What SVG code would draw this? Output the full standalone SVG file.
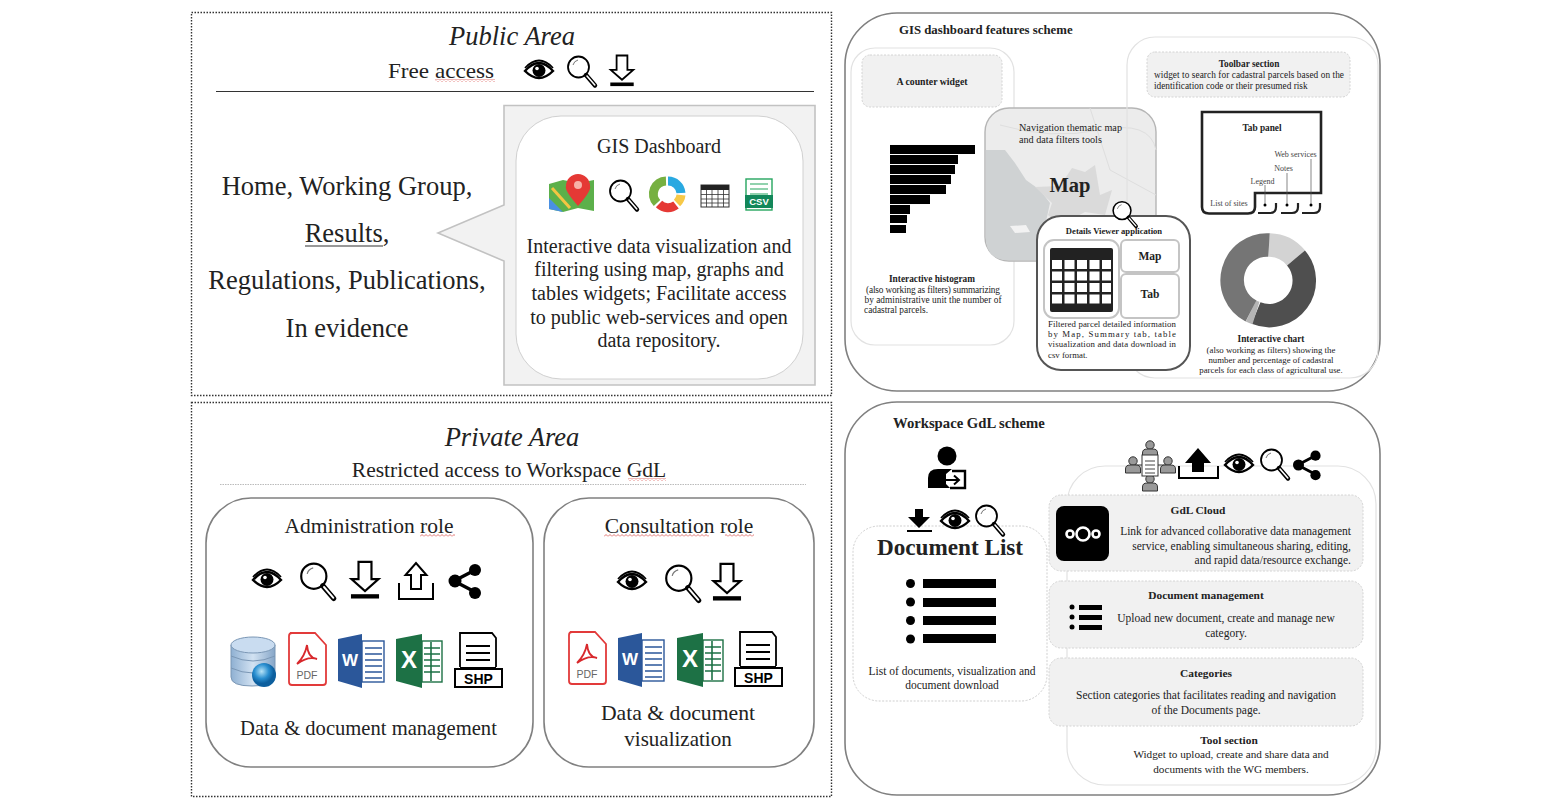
<svg xmlns="http://www.w3.org/2000/svg" width="1560" height="804" viewBox="0 0 1560 804">
<style>
text{font-family:"Liberation Serif","Times New Roman",serif;fill:#222}
.c{text-anchor:middle}
.b{font-weight:bold}
.i{font-style:italic}
.dot{fill:none;stroke:#333;stroke-width:1.4;stroke-dasharray:1.5 1.5}
.panel{fill:#fff;stroke:#808080;stroke-width:1.6}
.faint{fill:none;stroke:#e2e2e2;stroke-width:1.2}
.gbox{fill:#f1f1f1;stroke:#d4d4d4;stroke-width:1;stroke-dasharray:2 1.5}
.t12{font-size:11.5px}.tb{font-size:11.4px;font-weight:bold}.t9{font-size:9.3px}.t10{font-size:10.2px}
.t8{font-size:8px;fill:#444}
.squig{fill:url(#sq)}
.bar{fill:#000}
</style>
<defs>
<pattern id="sq" width="4" height="3" patternUnits="userSpaceOnUse"><path d="M0,2.5 L2,0.5 L4,2.5" fill="none" stroke="#d9534f" stroke-width="0.8"/></pattern>
<linearGradient id="dbg" x1="0" x2="1" y1="0" y2="0"><stop offset="0" stop-color="#8fb0d2"/><stop offset=".5" stop-color="#d2e2f2"/><stop offset="1" stop-color="#86a6c8"/></linearGradient>
<radialGradient id="globe" cx=".4" cy=".35"><stop offset="0" stop-color="#b7e3f7"/><stop offset=".6" stop-color="#2a8fd0"/><stop offset="1" stop-color="#0d5f9e"/></radialGradient>
<g id="eye"><path d="M-14,1 Q0,-15 14,1 Q0,15 -14,1Z" fill="#fff" stroke="#000" stroke-width="2.4"/><path d="M-14,-2 Q0,-17 14,-2" fill="none" stroke="#000" stroke-width="1.8"/><circle r="6.5" cy="0.5" fill="#000"/><circle cx="-2" cy="-1.5" r="1.8" fill="#fff"/></g>
<g id="mag"><circle cx="-3.5" cy="-4" r="10.5" fill="#fff" stroke="#000" stroke-width="1.8"/><path d="M4,4 L13,14.5" stroke="#000" stroke-width="4.4" stroke-linecap="round"/><path d="M5,5 L12.8,14" stroke="#fff" stroke-width="1.6" stroke-linecap="round"/><path d="M-9,-6 Q-8,-10 -4,-11" fill="none" stroke="#777" stroke-width="1"/></g>
<g id="down"><path d="M-6,-15 H6 V1 H12.5 L0,12 L-12.5,1 H-6Z" fill="#fff" stroke="#000" stroke-width="2"/><rect x="-13" y="15" width="26" height="4" fill="#000"/></g>
<g id="up"><path d="M-5,8 V-6 H-10.5 L0,-18 L10.5,-6 H5 V8Z" fill="#fff" stroke="#000" stroke-width="2"/><path d="M-17,2 V18 H17 V2" fill="none" stroke="#000" stroke-width="2"/></g>
<g id="share"><path d="M12,-12 L-11,0 L12,12" fill="none" stroke="#000" stroke-width="3.4"/><circle cx="10" cy="-11" r="6" fill="#000"/><circle cx="-10" cy="0" r="6.5" fill="#000"/><circle cx="10" cy="12" r="6" fill="#000"/></g>
<g id="pdf"><path d="M2,1 H27 L38,13 V50 Q38,53 35,53 H4 Q1,53 1,50 V4 Q1,1 4,1Z" fill="#fff" stroke="#e23a3a" stroke-width="1.8"/><path d="M19,13 Q17,24 9,32 Q20,24 29,27 Q20,26 19,13Z" fill="none" stroke="#d8282c" stroke-width="1.8"/><text x="19" y="47" class="c" style="font-family:'Liberation Sans',sans-serif;font-size:10.5px;fill:#666">PDF</text></g>
<g id="word"><path d="M0,5 L24,0 V54 L0,47Z" fill="#2b579a"/><rect x="24" y="7" width="22" height="41" fill="#fff" stroke="#2b579a" stroke-width="1.4"/><path d="M27,14H44M27,20H44M27,26H44M27,32H44M27,38H44M27,44H44" stroke="#2b579a" stroke-width="1.6"/><text x="12" y="32" class="c" style="font-family:'Liberation Sans',sans-serif;font-size:17px;font-weight:bold;fill:#fff">W</text></g>
<g id="excel"><path d="M0,5 L26,0 V54 L0,47Z" fill="#1d7145"/><rect x="26" y="7" width="20" height="41" fill="#fff" stroke="#1d7145" stroke-width="1.4"/><path d="M28,14H44M28,20H44M28,26H44M28,32H44M28,38H44M35,8V47" stroke="#1d7145" stroke-width="1.6"/><text x="13" y="34" class="c" style="font-family:'Liberation Sans',sans-serif;font-size:24px;font-weight:bold;fill:#fff">X</text></g>
<g id="shp"><path d="M6,35 V1 H38 L42,6 V35" fill="#fff" stroke="#000" stroke-width="1.8"/><path d="M12,14H36M12,21H36M12,28H36" stroke="#000" stroke-width="2"/><rect x="1" y="37" width="47" height="18" fill="#fff" stroke="#000" stroke-width="2"/><path d="M6,36H42" stroke="#000" stroke-width="2"/><text x="24.5" y="52" class="c" style="font-family:'Liberation Sans',sans-serif;font-size:14px;font-weight:bold;fill:#000">SHP</text></g>
<g id="person"><circle cy="-5" r="4.2" fill="#999" stroke="#333"/><path d="M-7.5,7 V3 Q-7.5,-1 -3,-1 H3 Q7.5,-1 7.5,3 V7Z" fill="#999" stroke="#333"/></g>
</defs>
<rect width="1560" height="804" fill="#fff"/>

<g id="public-area">
<rect class="dot" x="191.5" y="12.5" width="640" height="383"/>
<text x="512" y="45" class="c i" font-size="26.5">Public Area</text>
<text x="388" y="78" font-size="21" textLength="106" lengthAdjust="spacingAndGlyphs">Free access</text>
<rect class="squig" x="435" y="79" width="60" height="3"/>
<use href="#eye" x="539" y="70"/>
<use href="#mag" x="582" y="71"/>
<use href="#down" transform="translate(622 69) scale(.9)"/>
<path d="M216,91.5H814" stroke="#333" stroke-width="1.2"/>
</g>
<g id="public-pages">
<text x="347" y="195" class="c" font-size="26.5">Home, Working Group,</text>
<text x="347" y="242" class="c" font-size="26.5">Results,</text>
<rect x="305" y="245.5" width="78" height="1" fill="#333"/>
<text x="347" y="289" class="c" font-size="26.5">Regulations, Publications,</text>
<text x="347" y="337" class="c" font-size="26.5">In evidence</text>
</g>
<g id="gis-dashboard">
<path d="M504,105.5H815V385H504V261L438,233L504,205Z" fill="#f2f2f2" stroke="#c2c2c2" stroke-width="1.6"/>
<rect x="516" y="116" width="287" height="263" rx="45" fill="#fff" stroke="#d0d0d0" stroke-width="1"/>
<text x="659" y="153" class="c" font-size="20">GIS Dashboard</text>
<path d="M549,184 L563,180 L578,183 L594,180 V211 L578,208 L563,212 L549,209Z" fill="#5cb04a"/>
<path d="M549,198 L563,212 L549,209Z" fill="#4a90e2"/>
<path d="M552,188 L570,208" stroke="#f4c542" stroke-width="3"/>
<path d="M578,206 Q564,190 566,186 A12,12 0 1 1 590,186 Q592,190 578,206Z" fill="#e53935"/><circle cx="578" cy="185" r="4" fill="#f7b2a8"/>
<use href="#mag" x="624" y="195"/>
<g fill="none" stroke-width="9"><path d="M668,181 A13,13 0 0 1 681,193" stroke="#29a9e1"/><path d="M681,195 A13,13 0 0 1 677,203" stroke="#f7c948"/><path d="M676,205 A13,13 0 0 1 659,204" stroke="#e53935"/><path d="M657,203 A13,13 0 0 1 666,181" stroke="#76b041"/></g>
<g id="dash-table"><rect x="701" y="185" width="28" height="22" fill="#fff" stroke="#333" stroke-width="1"/><rect x="701" y="185" width="28" height="5" fill="#222"/><path d="M701,194.5H729M701,199H729M701,203H729M706.5,190V207M712,190V207M718,190V207M723.5,190V207" stroke="#333" stroke-width=".8"/></g>
<g id="dash-csv"><rect x="746" y="179" width="26" height="31" fill="#fff" stroke="#25a55f" stroke-width="1.4"/><path d="M750,184H768M750,189H768M750,194H768" stroke="#25a55f" stroke-width="1.2"/><rect x="745" y="195" width="28" height="13" fill="#12875a"/><text x="759" y="205" class="c" style="font-family:'Liberation Sans',sans-serif;font-size:9.5px;font-weight:bold;fill:#fff">CSV</text></g>
<g font-size="20"><text x="659" y="253" class="c">Interactive data visualization and</text><text x="659" y="276" class="c">filtering using map, graphs and</text><text x="659" y="300" class="c">tables widgets; Facilitate access</text><text x="659" y="324" class="c">to public web-services and open</text><text x="659" y="347" class="c">data repository.</text></g>
</g>

<g id="private-area">
<rect class="dot" x="191.5" y="402.5" width="640" height="394"/>
<text x="512" y="446" class="c i" font-size="26.5">Private Area</text>
<text x="509" y="477" class="c" font-size="21.5">Restricted access to Workspace GdL</text>
<rect class="squig" x="628" y="478" width="38" height="3"/>
<path d="M220,484.5H806" stroke="#bbb" stroke-width="1" stroke-dasharray="1.5 1"/>
</g>
<g id="administration-role">
<rect class="panel" x="206" y="498" width="327" height="269" rx="45"/>
<text x="369" y="533" class="c" font-size="21.5">Administration role</text>
<rect class="squig" x="420" y="534" width="35" height="3"/>
<use href="#eye" x="267" y="579"/><use href="#mag" transform="translate(318 581) scale(1.2)"/><use href="#down" transform="translate(365 578) scale(1.08)"/><use href="#up" x="416" y="581"/><use href="#share" x="465" y="581"/>
<g id="admin-db"><path d="M231,645 V677 Q231,686 252,686 Q275,686 275,677 V645Z" fill="url(#dbg)" stroke="#7b97b5"/><ellipse cx="253" cy="645" rx="22" ry="8" fill="#c9dcf0" stroke="#7b97b5"/><path d="M231,656 Q253,666 275,656M231,668 Q253,678 275,668" fill="none" stroke="#7b97b5"/><circle cx="264" cy="675" r="12" fill="url(#globe)"/></g>
<use href="#pdf" x="288" y="632"/><use href="#word" x="338" y="634"/><use href="#excel" x="396" y="634"/><use href="#shp" x="454" y="632"/>
<text x="368.5" y="735" class="c" font-size="20.6">Data &amp; document management</text>
</g>
<g id="consultation-role">
<rect class="panel" x="544" y="498" width="270" height="269" rx="45"/>
<text x="679" y="533" class="c" font-size="21.5">Consultation role</text>
<rect class="squig" x="604" y="534" width="105" height="3"/><rect class="squig" x="725" y="534" width="29" height="3"/>
<use href="#eye" x="632" y="581"/><use href="#mag" transform="translate(683 583) scale(1.2)"/><use href="#down" transform="translate(727 580) scale(1.08)"/>
<use href="#pdf" x="568" y="631"/><use href="#word" x="618" y="633"/><use href="#excel" x="677" y="633"/><use href="#shp" x="734" y="631"/>
<text x="678" y="720" class="c" font-size="21.7">Data &amp; document</text>
<text x="678" y="746" class="c" font-size="21">visualization</text>
</g>

<g id="gis-features">
<rect class="panel" x="845" y="13" width="535" height="378" rx="52"/>
<text x="899" y="34" class="b" font-size="12.8">GIS dashboard features scheme</text>
<rect class="faint" x="851" y="48" width="163" height="297" rx="24"/>
</g>
<g id="counter-widget"><rect class="gbox" x="862" y="55" width="140" height="52" rx="8"/><text x="932" y="85" class="c b" font-size="9.8">A counter widget</text></g>
<g id="histogram">
<rect class="bar" x="890" y="145" width="85" height="9"/><rect class="bar" x="890" y="155" width="68" height="9"/><rect class="bar" x="890" y="165" width="65" height="9"/><rect class="bar" x="890" y="175" width="61" height="9"/><rect class="bar" x="890" y="185" width="56" height="9"/><rect class="bar" x="890" y="195" width="40" height="9"/><rect class="bar" x="890" y="205" width="20" height="9"/><rect class="bar" x="890" y="215" width="17" height="8"/><rect class="bar" x="890" y="225" width="16" height="8"/>
<text x="932" y="282" class="c b t9">Interactive histogram</text>
<text x="933" y="293" class="c t9" textLength="134">(also working as filters) summarizing</text>
<text x="933" y="303" class="c t9" textLength="137">by administrative unit the number of</text>
<text x="864" y="313" class="t9">cadastral parcels.</text>
</g>
<g id="map-panel">
<rect x="985" y="108" width="171" height="153" rx="24" fill="#ececec" stroke="#b5b5b5" stroke-width="1.4"/>
<path d="M985.7,150 L1005,150 L1015,163 L1026,180 L1040,190 L1050,203 L1047,217 L1040,240 L1036,260.3 H1009 Q985.7,260.3 985.7,237Z" fill="#cfd2d3"/>
<path d="M1035,187 L1060,186 L1072,168 L1085,172 L1095,165 L1100,195 L1112,190 L1105,215 L1085,212 L1060,225 L1048,215 L1052,203Z" fill="#dadada"/>
<path d="M1010,226 L1026,225 L1030,232 L1015,233Z" fill="#f2f2f2"/>
<path d="M1000,125 Q1050,140 1100,130 T1156,150M1090,108 L1110,170M1110,170 L1156,195" fill="none" stroke="#dedede"/>
<text x="1019" y="131" class="t10">Navigation thematic map</text>
<text x="1019" y="143" class="t10">and data filters tools</text>
<text x="1070" y="192" class="c b" font-size="20.5">Map</text>
</g>
<g id="right-features-frame"><rect class="faint" x="1127" y="37" width="251" height="341" rx="28"/></g>
<g id="toolbar-section"><rect class="gbox" x="1147" y="52" width="203" height="45" rx="8"/><text x="1249" y="67" class="c b t9">Toolbar section</text>
<text x="1249" y="78" class="c t9" textLength="190">widget to search for cadastral parcels based on the</text><text x="1154" y="89" class="t9">identification code or their presumed risk</text></g>
<g id="tab-panel">
<path d="M1202,112 H1321 V193 H1255 V207 Q1255,213.5 1248,213.5 H1209 Q1202,213.5 1202,207Z" fill="#fff" stroke="#222" stroke-width="2.6"/>
<path d="M1258,213 H1270 Q1276,213 1276,207 V203M1281,213 H1292 Q1298,213 1298,207 V203M1302,213 H1314 Q1320,213 1320,207 V203" fill="none" stroke="#222" stroke-width="2.2"/>
<path d="M1265,185V204M1287,173V204M1311,159V204" stroke="#555" stroke-width=".7"/>
<circle cx="1265" cy="205" r="1.5" fill="#000"/><circle cx="1287" cy="205" r="1.5" fill="#000"/><circle cx="1311" cy="205" r="1.5" fill="#000"/>
<text x="1262" y="131" class="c b t9">Tab panel</text><text x="1295.5" y="157" class="c t8">Web services</text><text x="1283.5" y="171" class="c t8">Notes</text><text x="1262.5" y="184" class="c t8">Legend</text><text x="1229" y="206" class="c t8">List of sites</text>
</g>
<g id="interactive-chart">
<g fill="none" stroke-width="23.5"><path d="M1269,245 A35,35 0 0 1 1296,258" stroke="#d3d3d3"/><path d="M1296,258 A35,35 0 0 1 1256,313" stroke="#4f4f4f"/><path d="M1256,313 A35,35 0 0 1 1251,311" stroke="#b5b5b5"/><path d="M1251,311 A35,35 0 0 1 1269,245" stroke="#757575"/></g>
<text x="1271" y="342" class="c b t9">Interactive chart</text>
<text x="1271" y="353" class="c" font-size="8.8">(also working as filters) showing the</text>
<text x="1271" y="363" class="c" font-size="8.8">number and percentage of cadastral</text>
<text x="1271" y="373" class="c" font-size="8.8">parcels for each class of agricultural use.</text>
</g>
<g id="details-viewer">
<rect x="1037" y="216" width="153" height="154" rx="24" fill="#fff" stroke="#555" stroke-width="2"/>
<use href="#mag" transform="translate(1125 214) scale(.85)"/>
<text x="1114" y="234" class="c b" font-size="8.6">Details Viewer application</text>
<rect x="1044" y="240" width="75" height="78" rx="10" fill="#fff" stroke="#c4c4c4" stroke-width="2"/>
<rect x="1121" y="240" width="58" height="32" rx="5" fill="#fff" stroke="#c4c4c4" stroke-width="2"/>
<rect x="1121" y="274" width="58" height="44" rx="5" fill="#fff" stroke="#c4c4c4" stroke-width="2"/>
<rect x="1050" y="248" width="63" height="64" rx="2" fill="#222"/>
<g fill="#fff"><rect x="1052" y="260" width="10" height="9"/><rect x="1064.5" y="260" width="10" height="9"/><rect x="1077" y="260" width="10" height="9"/><rect x="1089.5" y="260" width="10" height="9"/><rect x="1102" y="260" width="9" height="9"/><rect x="1052" y="271.5" width="10" height="9"/><rect x="1064.5" y="271.5" width="10" height="9"/><rect x="1077" y="271.5" width="10" height="9"/><rect x="1089.5" y="271.5" width="10" height="9"/><rect x="1102" y="271.5" width="9" height="9"/><rect x="1052" y="283" width="10" height="9"/><rect x="1064.5" y="283" width="10" height="9"/><rect x="1077" y="283" width="10" height="9"/><rect x="1089.5" y="283" width="10" height="9"/><rect x="1102" y="283" width="9" height="9"/><rect x="1052" y="294.5" width="10" height="9"/><rect x="1064.5" y="294.5" width="10" height="9"/><rect x="1077" y="294.5" width="10" height="9"/><rect x="1089.5" y="294.5" width="10" height="9"/><rect x="1102" y="294.5" width="9" height="9"/></g>
<text x="1150" y="260" class="c b" font-size="11.5">Map</text><text x="1150" y="298" class="c b" font-size="11.5">Tab</text>
<text x="1112" y="327" class="c" font-size="8.8" textLength="128">Filtered parcel detailed information</text>
<text x="1112" y="337" class="c" font-size="8.8" textLength="128">by Map, Summary tab, table</text>
<text x="1112" y="347" class="c" font-size="8.8" textLength="128">visualization and data download in</text>
<text x="1048" y="358" font-size="8.8">csv format.</text>
</g>

<g id="workspace-gdl">
<rect class="panel" x="845" y="402" width="535" height="393" rx="52"/>
<text x="893" y="428" class="b" font-size="14.7">Workspace GdL scheme</text>
<rect class="faint" x="1067" y="466" width="309" height="319" rx="38"/>
</g>
<g id="user-login">
<circle cx="947" cy="456" r="9.5" fill="#000"/>
<path d="M928,488 V478 Q928,469 938,469 H952 L946,474 V484 L950,488Z" fill="#000"/>
<path d="M952,471 H965 V488 H950" fill="none" stroke="#000" stroke-width="2.4"/><path d="M945,480 H958 M954,475.5 L959,480 L954,484.5" fill="none" stroke="#000" stroke-width="2"/>
</g>
<g id="document-list">
<rect x="853" y="526" width="194" height="175" rx="26" fill="none" stroke="#cfcfcf" stroke-dasharray="2 1.5"/>
<path d="M915,509H923V517H930L919,528L908,517H915Z" fill="#000"/><rect x="907" y="530" width="25" height="2" fill="#000"/>
<use href="#eye" x="955" y="520"/>
<use href="#mag" x="990" y="520"/>
<text x="950" y="555" class="c b" font-size="23.2">Document List</text>
<circle cx="910.5" cy="583.5" r="4.5"/><rect x="923" y="579" width="73" height="9"/>
<circle cx="910.5" cy="602" r="4.5"/><rect x="923" y="598" width="73" height="9"/>
<circle cx="910.5" cy="620.5" r="4.5"/><rect x="923" y="616" width="73" height="9"/>
<circle cx="910.5" cy="639" r="4.5"/><rect x="923" y="634" width="73" height="9"/>
<text x="952" y="675" class="c t12">List of documents, visualization and</text>
<text x="952" y="689" class="c t12">document download</text>
</g>
<g id="tool-icons">
<path d="M1150,450V484M1134,465H1167" stroke="#333"/>
<use href="#person" x="1150" y="450"/><use href="#person" x="1133" y="466"/><use href="#person" x="1168" y="466"/><use href="#person" x="1150" y="484"/>
<rect x="1142" y="455" width="16" height="21" fill="#fff" stroke="#333"/><path d="M1145,461H1155M1145,465H1155M1145,469H1155M1145,473H1155" stroke="#444"/>
<path d="M1198,448 L1211,463 H1204 V472 H1192 V463 H1185Z" fill="#000"/><path d="M1179,466 V478 H1218 V466" fill="none" stroke="#000" stroke-width="2"/>
<use href="#eye" x="1239" y="464"/><use href="#mag" x="1275" y="464"/><use href="#share" transform="translate(1307 465) scale(.85)"/>
</g>
<g id="gdl-cloud">
<rect class="gbox" x="1049" y="495" width="314" height="76" rx="12"/>
<rect x="1056" y="506" width="53" height="55" rx="8" fill="#000"/>
<g fill="#000" stroke="#fff" stroke-width="2.6"><circle cx="1070" cy="534" r="3.5"/><circle cx="1083" cy="534" r="6.5"/><circle cx="1096" cy="534" r="3.5"/></g>
<text x="1198" y="514" class="c tb">GdL Cloud</text>
<g class="t12" text-anchor="end"><text x="1351" y="535">Link for advanced collaborative data management</text><text x="1351" y="550">service, enabling simultaneous sharing, editing,</text><text x="1351" y="564">and rapid data/resource exchange.</text></g>
</g>
<g id="document-management">
<rect class="gbox" x="1049" y="581" width="314" height="67" rx="12"/>
<text x="1206" y="599" class="c tb">Document management</text>
<circle cx="1072" cy="607" r="2.5"/><rect x="1079" y="605" width="23" height="5"/><circle cx="1072" cy="617" r="2.5"/><rect x="1079" y="615" width="23" height="5"/><circle cx="1072" cy="627" r="2.5"/><rect x="1079" y="625" width="23" height="5"/>
<text x="1226" y="622" class="c t12">Upload new document, create and manage new</text>
<text x="1226" y="637" class="c t12">category.</text>
</g>
<g id="categories">
<rect class="gbox" x="1049" y="658" width="314" height="68" rx="12"/>
<text x="1206" y="677" class="c tb">Categories</text>
<text x="1206" y="699" class="c t12">Section categories that facilitates reading and navigation</text>
<text x="1206" y="714" class="c t12">of the Documents page.</text>
</g>
<g id="tool-section">
<text x="1229" y="744" class="c tb">Tool section</text>
<text x="1231" y="758" class="c" font-size="11.2">Widget to upload, create and share data and</text>
<text x="1231" y="773" class="c" font-size="11.2">documents with the WG members.</text>
</g>
</svg>
